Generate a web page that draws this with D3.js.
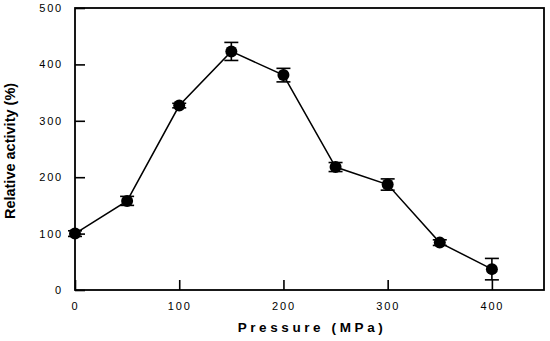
<!DOCTYPE html>
<html><head><meta charset="utf-8">
<script src="https://cdn.jsdelivr.net/npm/d3@7"></script>
<style>
html,body{margin:0;padding:0;background:#fff;}
svg text{font-family:"Liberation Sans",Arial,sans-serif;}
</style></head>
<body><svg id="c" width="550" height="341"></svg>
<script>
const pressure = [0, 50, 100, 150, 200, 250, 300, 350, 400];
const activity = [100, 158, 327, 423, 381, 218, 187, 84, 37];
const errors = [5, 8, 4, 16, 12, 8, 10, 5, 19];
const xTicks = [0, 100, 200, 300, 400];
const yTicks = [0, 100, 200, 300, 400, 500];

const svg = d3.select("#c");
const L = 75, R = 544, T = 8, B = 290;
const x = d3.scaleLinear().domain([0, 450]).range([L, R]);
const y = d3.scaleLinear().domain([0, 500]).range([B, T]);

// frame
svg.append("rect").attr("x", L).attr("y", T).attr("width", R - L).attr("height", B - T)
  .attr("fill", "none").attr("stroke", "#000").attr("stroke-width", 1.8);

// y axis
const ya = svg.append("g").attr("transform", `translate(${L},0)`)
  .call(d3.axisLeft(y).tickValues(yTicks).tickSize(-10).tickPadding(12).tickFormat(d3.format("d")));
ya.select(".domain").remove();
ya.selectAll("line").attr("stroke", "#000").attr("stroke-width", 1.6);
ya.selectAll("text").attr("font-size", 11).attr("letter-spacing", 1.8).attr("fill", "#000");

// x axis
const xa = svg.append("g").attr("transform", `translate(0,${B})`)
  .call(d3.axisBottom(x).tickValues(xTicks).tickSize(-10).tickPadding(12).tickFormat(d3.format("d")));
xa.select(".domain").remove();
xa.selectAll("line").attr("stroke", "#000").attr("stroke-width", 1.6);
xa.selectAll("text").attr("font-size", 11).attr("letter-spacing", 1.8).attr("fill", "#000");

const data = pressure.map((p, i) => ({p, a: activity[i], e: errors[i]}));

// line
svg.append("path").datum(data)
  .attr("fill", "none").attr("stroke", "#000").attr("stroke-width", 1.5)
  .attr("d", d3.line().x(d => x(d.p)).y(d => y(d.a)));

// error bars
const eb = svg.append("g").attr("stroke", "#000").attr("stroke-width", 1.6);
data.forEach(d => {
  eb.append("line").attr("x1", x(d.p)).attr("x2", x(d.p)).attr("y1", y(d.a - d.e)).attr("y2", y(d.a + d.e));
  [d.a - d.e, d.a + d.e].forEach(v => {
    eb.append("line").attr("x1", x(d.p) - 7).attr("x2", x(d.p) + 7).attr("y1", y(v)).attr("y2", y(v));
  });
});

// markers
svg.append("g").selectAll("circle").data(data).join("circle")
  .attr("cx", d => x(d.p)).attr("cy", d => y(d.a)).attr("r", 6).attr("fill", "#000");

// labels
svg.append("text").attr("x", 312).attr("y", 332).attr("text-anchor", "middle")
  .attr("font-size", 13.5).attr("font-weight", "bold").attr("letter-spacing", 3.6).text("Pressure (MPa)");
svg.append("text").attr("transform", `translate(15,151) rotate(-90)`).attr("text-anchor", "middle")
  .attr("font-size", 14.5).attr("font-weight", "bold").text("Relative activity (%)");
</script></body></html>
